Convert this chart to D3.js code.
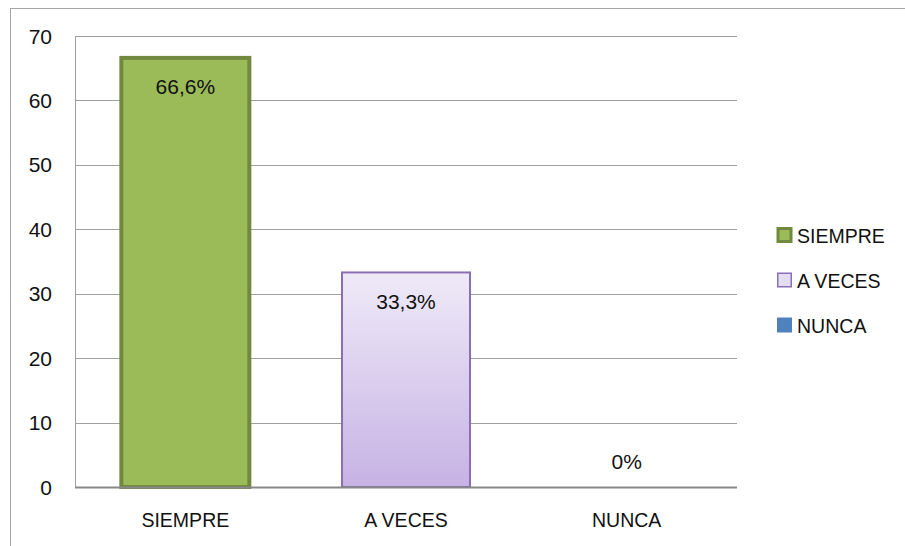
<!DOCTYPE html>
<html lang="es">
<head>
<meta charset="UTF-8"/>
<title>Chart</title>
<script src="https://d3js.org/d3.v7.min.js"></script>
<style>
	body { margin: 0; background: #fff; }
	text { font-family: "Liberation Sans", Arial, sans-serif; fill: #111; font-size: 21px; }
</style>
</head>
<body>
<script>
	var w = 905;
	var h = 546;

	// data
	var categories = ["SIEMPRE", "A VECES", "NUNCA"];
	var values = [66.6, 33.3, 0];
	var labels = ["66,6%", "33,3%", "0%"];
	var yTicks = [0, 10, 20, 30, 40, 50, 60, 70];

	var plotLeft = 75, plotRight = 737, plotTop = 36, plotBottom = 487;
	var narrow = 0.93; // squeeze letters like a narrow font

	var svg = d3.select("body")
		.append("svg")
		.attr("width", w)
		.attr("height", h);

	// outer chart border
	svg.append("rect")
		.attr("x", 10.5).attr("y", 8.5)
		.attr("width", 920).attr("height", 560)
		.attr("fill", "none")
		.attr("stroke", "#a6a6a6")
		.attr("stroke-width", 1);

	var xScale = d3.scaleBand()
		.domain(categories)
		.range([plotLeft, plotRight])
		.paddingInner(0.42)
		.paddingOuter(0.21);

	var yScale = d3.scaleLinear()
		.domain([0, 70])
		.range([plotBottom, plotTop]);

	var defs = svg.append("defs");
	var grad = defs.append("linearGradient")
		.attr("id", "purpleGrad")
		.attr("x1", 0).attr("y1", 0).attr("x2", 0).attr("y2", 1);
	grad.append("stop").attr("offset", "0%").attr("stop-color", "#efeaf8");
	grad.append("stop").attr("offset", "100%").attr("stop-color", "#c6b2e4");

	var fills = ["#9bbb59", "url(#purpleGrad)", "#4f81bd"];
	var strokes = ["#71893f", "#8a6fb5", "#3a679c"];
	var strokeW = [4, 2, 2];
	var legendFills = ["#9bbb59", "#e4dcf2", "#4f81bd"];

	// gridlines
	svg.selectAll("line.grid")
		.data(yTicks.filter(function(d){ return d > 0; }))
		.enter()
		.append("line")
		.attr("class", "grid")
		.attr("x1", plotLeft).attr("x2", plotRight)
		.attr("y1", function(d){ return Math.round(yScale(d)) + 0.5; })
		.attr("y2", function(d){ return Math.round(yScale(d)) + 0.5; })
		.attr("stroke", "#a0a0a0")
		.attr("stroke-width", 1);

	// y axis line
	svg.append("line")
		.attr("x1", plotLeft + 0.5).attr("x2", plotLeft + 0.5)
		.attr("y1", plotTop).attr("y2", plotBottom)
		.attr("stroke", "#a0a0a0");

	// y tick labels
	svg.selectAll("text.ytick")
		.data(yTicks)
		.enter()
		.append("text")
		.attr("class", "ytick")
		.attr("x", 52)
		.attr("y", function(d){ return yScale(d); })
		.attr("dy", "0.36em")
		.attr("text-anchor", "end")
		.text(function(d){ return d; });

	// bars
	svg.selectAll("rect.bar")
		.data(values)
		.enter()
		.append("rect")
		.attr("class", "bar")
		.attr("x", function(d, i){ return xScale(categories[i]); })
		.attr("y", function(d){ return yScale(d); })
		.attr("width", xScale.bandwidth())
		.attr("height", function(d){ return plotBottom - yScale(d); })
		.attr("fill", function(d, i){ return fills[i]; })
		.attr("stroke", function(d, i){ return d > 0 ? strokes[i] : "none"; })
		.attr("stroke-width", function(d, i){ return strokeW[i]; });

	// x axis line
	svg.append("line")
		.attr("x1", plotLeft).attr("x2", plotRight)
		.attr("y1", plotBottom + 0.5).attr("y2", plotBottom + 0.5)
		.attr("stroke", "#888888")
		.attr("stroke-width", 2);

	// data labels
	svg.selectAll("text.lbl")
		.data(values)
		.enter()
		.append("text")
		.attr("class", "lbl")
		.attr("x", function(d, i){ return xScale(categories[i]) + xScale.bandwidth() / 2; })
		.attr("y", function(d){ return d > 0 ? yScale(d) + 29 : yScale(d) - 26; })
		.attr("dy", "0.36em")
		.attr("text-anchor", "middle")
		.text(function(d, i){ return labels[i]; });

	// category labels
	svg.selectAll("text.cat")
		.data(categories)
		.enter()
		.append("text")
		.attr("class", "cat")
		.attr("transform", function(d){
			return "translate(" + (xScale(d) + xScale.bandwidth() / 2) + ",519) scale(" + narrow + ",1)";
		})
		.attr("dy", "0.36em")
		.attr("text-anchor", "middle")
		.text(function(d){ return d; });

	// legend
	var legend = svg.selectAll("g.leg")
		.data(categories)
		.enter()
		.append("g")
		.attr("class", "leg")
		.attr("transform", function(d, i){ return "translate(777," + (235 + i * 45) + ")"; });

	var swatch = [13, 13.5, 15];
	legend.append("rect")
		.attr("x", function(d, i){ return 7.5 - swatch[i] / 2; })
		.attr("y", function(d, i){ return -swatch[i] / 2; })
		.attr("width", function(d, i){ return swatch[i]; })
		.attr("height", function(d, i){ return swatch[i]; })
		.attr("fill", function(d, i){ return legendFills[i]; })
		.attr("stroke", function(d, i){ return i < 2 ? strokes[i] : "none"; })
		.attr("stroke-width", function(d, i){ return i == 0 ? 3 : 1.5; });

	legend.append("text")
		.attr("transform", "translate(20,0) scale(" + narrow + ",1)")
		.attr("dy", "0.36em")
		.text(function(d){ return d; });
</script>
</body>
</html>
